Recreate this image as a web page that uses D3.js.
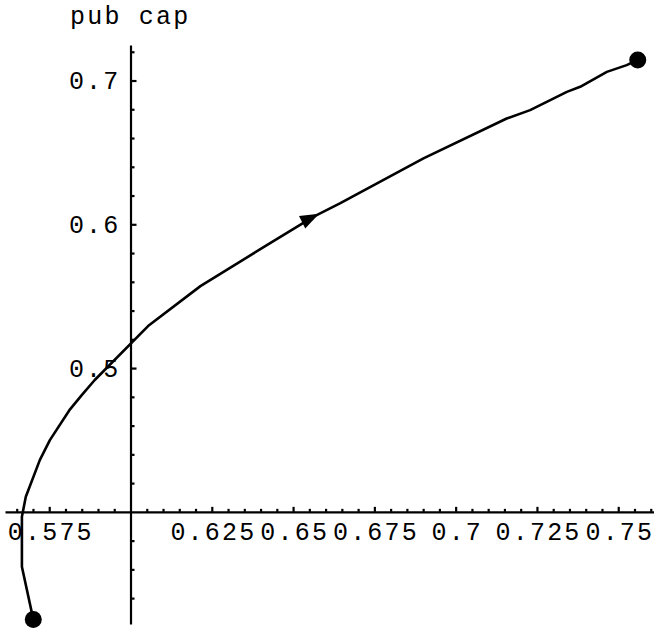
<!DOCTYPE html>
<html>
<head>
<meta charset="utf-8">
<script src="https://cdn.jsdelivr.net/npm/d3@7"></script>
<style>
  html, body { margin: 0; padding: 0; background: #fff; }
  svg { display: block; }
  .tick text { font-family: "Liberation Mono", monospace; font-size: 25px; letter-spacing: 2.2px; fill: #000; }
</style>
</head>
<body>
<svg id="chart" width="654" height="631"></svg>
<script>
// trajectory, in data units
const trajX = [0.5701, 0.5666, 0.5666, 0.5678, 0.5721, 0.5752, 0.5814, 0.5850, 0.5890,
  0.6054, 0.6215, 0.6408, 0.6562, 0.6644, 0.6901, 0.7157, 0.7229, 0.7342, 0.7383,
  0.7465, 0.7526, 0.7560];
const trajY = [0.3252, 0.3618, 0.3966, 0.4105, 0.4360, 0.4499, 0.4713, 0.4812, 0.4917,
  0.5292, 0.5570, 0.5839, 0.6052, 0.6145, 0.6458, 0.6736, 0.6794, 0.6921, 0.6956,
  0.7060, 0.7107, 0.7143];
// where the direction arrow sits on the curve
const arrowTip = [0.6580, 0.6074];

const xMajor = [0.575, 0.625, 0.65, 0.675, 0.7, 0.725, 0.75];
const xLabels = ["0.575", "0.625", "0.65", "0.675", "0.7", "0.725", "0.75"];
const xMinor = [0.565, 0.57, 0.58, 0.585, 0.59, 0.595, 0.605, 0.61, 0.615, 0.62,
  0.63, 0.635, 0.64, 0.645, 0.655, 0.66, 0.665, 0.67, 0.68, 0.685, 0.69, 0.695,
  0.705, 0.71, 0.715, 0.72, 0.73, 0.735, 0.74, 0.745, 0.755, 0.76];
const yMajor = [0.5, 0.6, 0.7];
const yLabels = ["0.5", "0.6", "0.7"];
const yMinor = [0.34, 0.36, 0.38, 0.42, 0.44, 0.46, 0.48, 0.52, 0.54, 0.56, 0.58,
  0.62, 0.64, 0.66, 0.68, 0.72];
const origin = [0.6, 0.4];
const yTitle = "pub cap";

(function () {
  "use strict";
  const svg = d3.select("#chart");
  const x = d3.scaleLinear().domain([0.5614, 0.761]).range([5, 654]);
  const y = d3.scaleLinear().domain([0.322, 0.7247]).range([624, 45]);

  const axisStyle = (g) => {
    g.select(".domain").attr("stroke", "#000").attr("stroke-width", 2.2);
    g.selectAll(".tick line").attr("stroke", "#000").attr("stroke-width", 2.2);
  };

  // x axis: minor ticks, then major ticks + labels
  svg.append("g")
    .attr("transform", `translate(0,${y(origin[1])})`)
    .call(d3.axisBottom(x).tickValues(xMinor).tickSizeInner(-3).tickSizeOuter(0).tickFormat(""))
    .call(axisStyle)
    .call((g) => g.select(".domain").remove());
  svg.append("g")
    .attr("transform", `translate(0,${y(origin[1])})`)
    .call(d3.axisBottom(x).tickValues(xMajor).tickSizeInner(-5).tickSizeOuter(0)
      .tickPadding(10).tickFormat((d, i) => xLabels[i]))
    .call(axisStyle)
    .call((g) => g.selectAll(".tick text").attr("dx", 1.1));

  // y axis
  svg.append("g")
    .attr("transform", `translate(${x(origin[0])},0)`)
    .call(d3.axisLeft(y).tickValues(yMinor).tickSizeInner(-4).tickSizeOuter(0).tickFormat(""))
    .call(axisStyle)
    .call((g) => g.select(".domain").remove());
  svg.append("g")
    .attr("transform", `translate(${x(origin[0])},0)`)
    .call(d3.axisLeft(y).tickValues(yMajor).tickSizeInner(-6).tickSizeOuter(0)
      .tickPadding(10).tickFormat((d, i) => yLabels[i]))
    .call(axisStyle);

  svg.selectAll("g").attr("font-family", null).attr("font-size", null);

  svg.append("text")
    .attr("x", 70)
    .attr("y", 24)
    .attr("font-family", "Liberation Mono, monospace")
    .attr("font-size", 25)
    .attr("letter-spacing", 2.2)
    .text(yTitle);

  // trajectory
  const pts = trajX.map((v, i) => [v, trajY[i]]);
  const line = d3.line().x((d) => x(d[0])).y((d) => y(d[1]));
  svg.append("path")
    .attr("d", line(pts))
    .attr("fill", "none")
    .attr("stroke", "#000")
    .attr("stroke-width", 2.6)
    .attr("stroke-linejoin", "round");

  // arrow head, oriented along the segment it sits on
  const tx = x(arrowTip[0]), ty = y(arrowTip[1]);
  const seg = d3.bisector((d) => d[0]).left(pts, arrowTip[0]);
  const a = pts[seg - 1], b = pts[seg];
  const ang = Math.atan2(y(b[1]) - y(a[1]), x(b[0]) - x(a[0]));
  const len = 19, half = 7;
  const bx = tx - len * Math.cos(ang), by = ty - len * Math.sin(ang);
  const nx = -Math.sin(ang) * half, ny = Math.cos(ang) * half;
  svg.append("path")
    .attr("d", `M${tx},${ty}L${bx + nx},${by + ny}L${bx - nx},${by - ny}Z`)
    .attr("fill", "#000");

  // start and end points
  svg.selectAll("circle.end")
    .data([pts[0], pts[pts.length - 1]])
    .join("circle")
    .attr("class", "end")
    .attr("cx", (d) => x(d[0]))
    .attr("cy", (d) => y(d[1]))
    .attr("r", 8.5)
    .attr("fill", "#000");
})();
</script>
</body>
</html>
